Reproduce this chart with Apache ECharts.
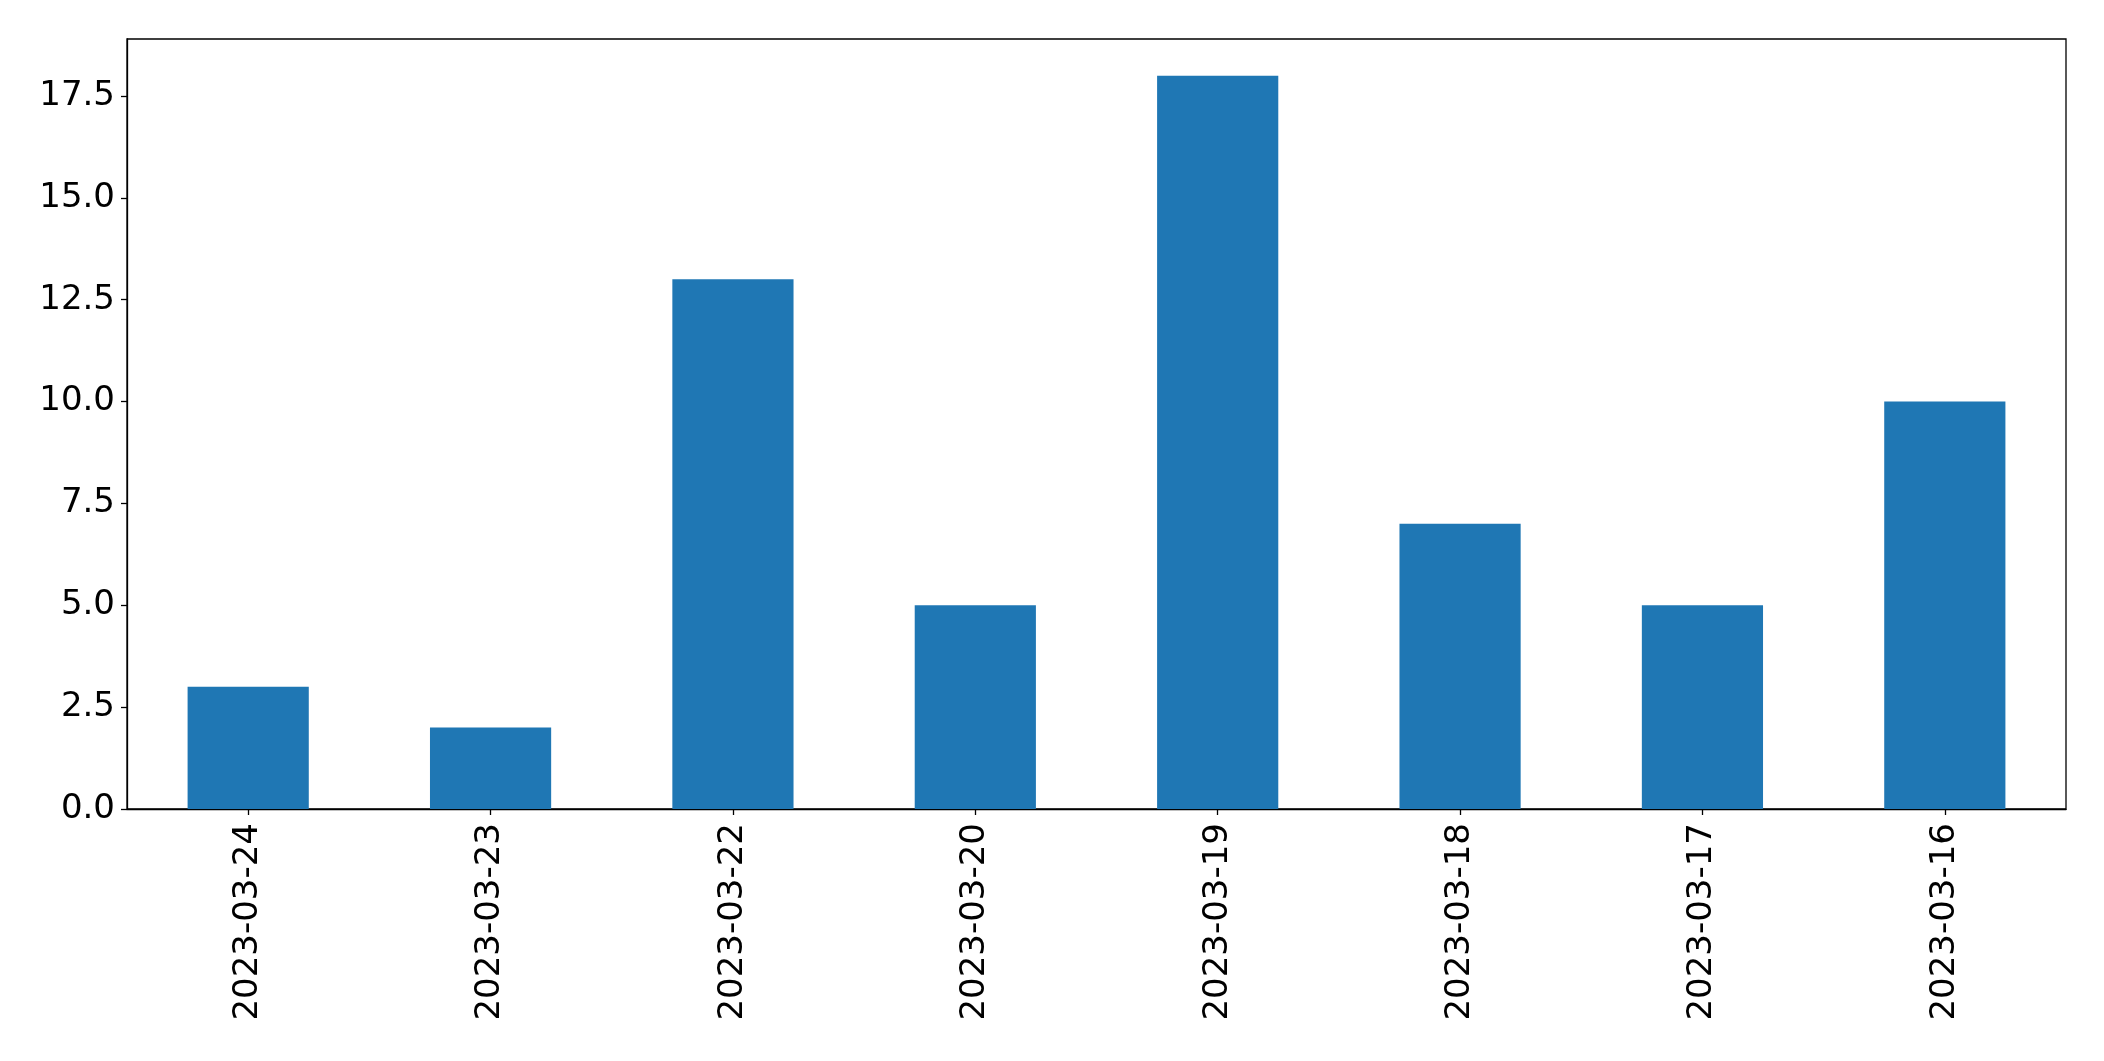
<!DOCTYPE html>
<html>
<head>
<meta charset="utf-8">
<script src="https://cdn.jsdelivr.net/npm/echarts@6/dist/echarts.min.js"></script>
<style>
html,body{margin:0;padding:0;background:#fff;}
#chart{width:2104px;height:1061px;}
</style>
</head>
<body>
<div id="chart"></div>
<script>
const categories = ['2023-03-24','2023-03-23','2023-03-22','2023-03-20','2023-03-19','2023-03-18','2023-03-17','2023-03-16'];
const values = [3, 2, 13, 5, 18, 7, 5, 10];
const yTicks = [0, 2.5, 5, 7.5, 10, 12.5, 15, 17.5];

const chart = echarts.init(document.getElementById('chart'), null, {renderer: 'canvas'});
const font = 'DejaVu Sans';
chart.setOption({
  animation: false,
  backgroundColor: '#ffffff',
  grid: {
    left: 127, right: 38, top: 39, bottom: 252,
    show: true, borderColor: '#000', borderWidth: 1.3, backgroundColor: 'transparent',
    containLabel: false
  },
  xAxis: {
    type: 'category',
    data: categories,
    boundaryGap: true,
    axisLine: {show: true, lineStyle: {color: '#000', width: 1.3}},
    axisTick: {show: true, alignWithLabel: true, length: 6, lineStyle: {color: '#000', width: 1.3}},
    axisLabel: {rotate: 90, margin: 14, fontFamily: font, fontSize: 34, color: '#000', interval: 0},
    splitLine: {show: false}
  },
  yAxis: {
    type: 'value',
    min: 0,
    max: 18.9,
    interval: 2.5,
    axisLine: {show: true, lineStyle: {color: '#000', width: 1.3}},
    axisTick: {show: true, length: 6, lineStyle: {color: '#000', width: 1.3}},
    axisLabel: {
      margin: 12, fontFamily: font, fontSize: 34, color: '#000',
      showMaxLabel: false,
      formatter: function (v) { return yTicks.indexOf(v) >= 0 ? v.toFixed(1) : ''; }
    },
    splitLine: {show: false}
  },
  series: [{
    type: 'bar',
    data: values,
    barWidth: '50%',
    itemStyle: {color: '#1f77b4'}
  }]
});
</script>
</body>
</html>
